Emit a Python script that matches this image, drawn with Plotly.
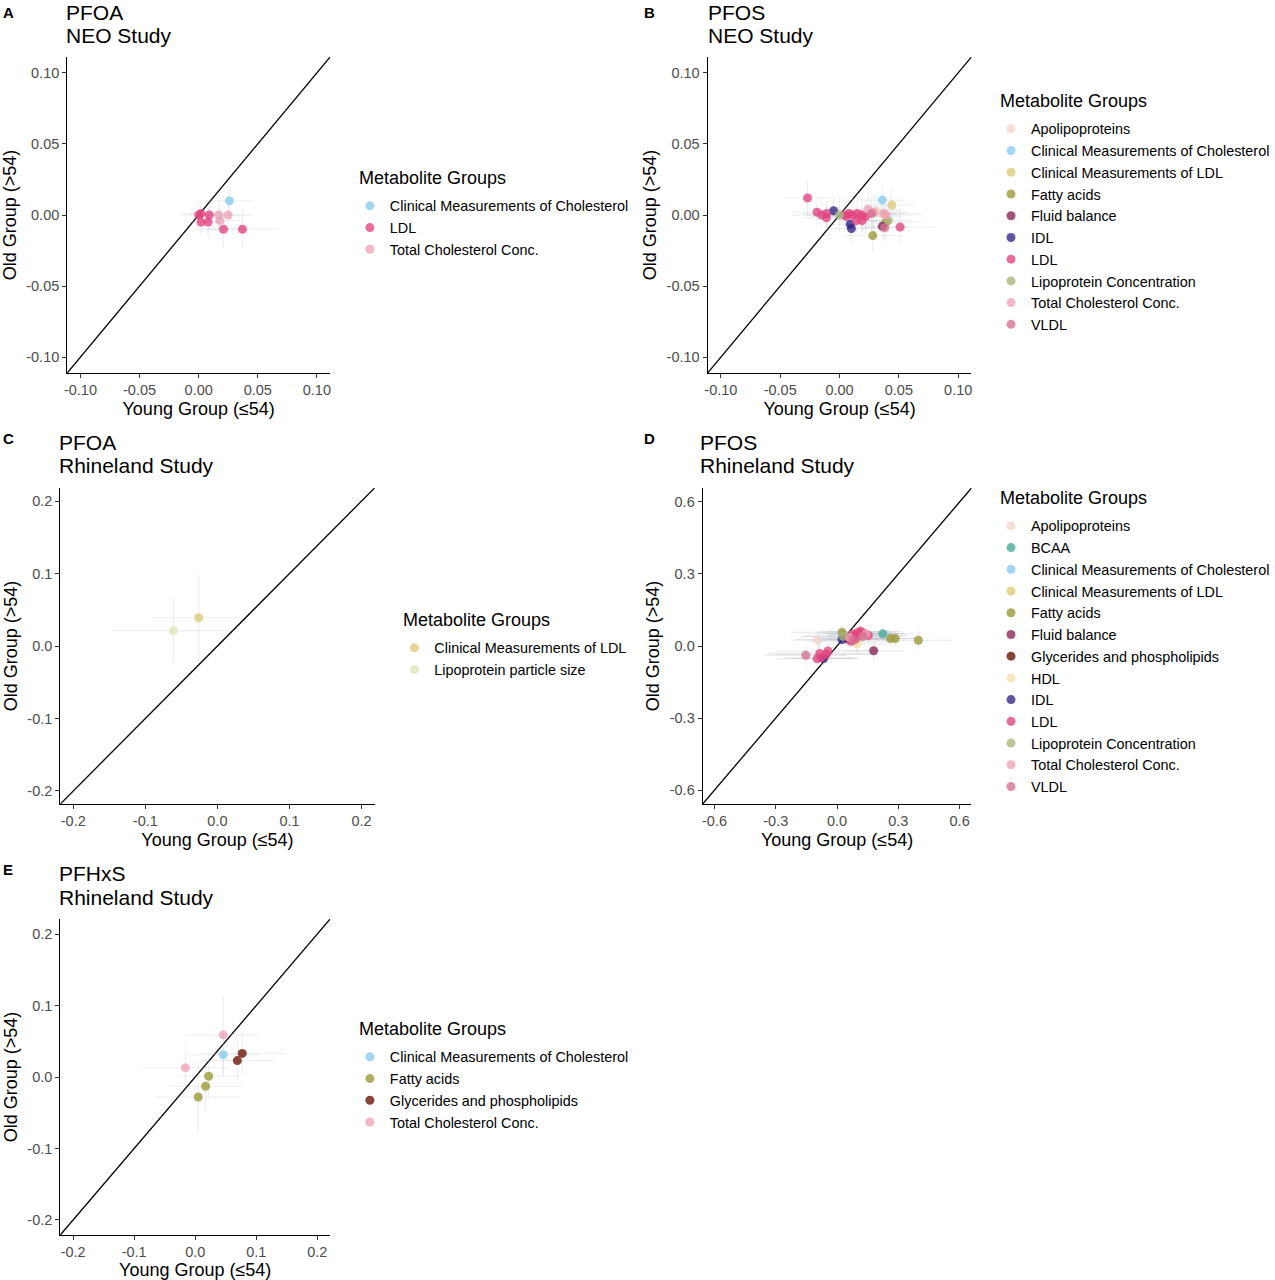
import plotly.graph_objects as go

W, H = 1275, 1280

COLORS = {
    "Apolipoproteins": "#F2D5C6",
    "BCAA": "#44AA99",
    "Clinical Measurements of Cholesterol": "#88CCEE",
    "Clinical Measurements of LDL": "#DDCC77",
    "Fatty acids": "#999933",
    "Fluid balance": "#882255",
    "Glycerides and phospholipids": "#661100",
    "HDL": "#F3DCA6",
    "IDL": "#332288",
    "LDL": "#E2427F",
    "Lipoprotein Concentration": "#A9B57A",
    "Lipoprotein particle size": "#E1E6B8",
    "Total Cholesterol Conc.": "#EDA3B5",
    "VLDL": "#D5708E",
}

# ---------------- Panel A: PFOA, NEO Study ----------------
A_group = ["Clinical Measurements of Cholesterol",
           "LDL", "LDL", "LDL", "LDL", "LDL", "LDL", "LDL",
           "Total Cholesterol Conc.", "Total Cholesterol Conc.", "Total Cholesterol Conc."]
A_x = [0.026, 0.000, 0.002, 0.009, 0.002, 0.008, 0.021, 0.037, 0.017, 0.025, 0.018]
A_y = [0.010, 0.000, 0.001, 0.000, -0.005, -0.005, -0.010, -0.010, 0.000, 0.000, -0.004]
A_ex = [0.020, 0.015, 0.015, 0.016, 0.015, 0.016, 0.020, 0.030, 0.018, 0.020, 0.018]
A_ey = [0.012, 0.010, 0.010, 0.010, 0.010, 0.010, 0.012, 0.014, 0.010, 0.010, 0.010]

# ---------------- Panel B: PFOS, NEO Study ----------------
B_group = ["Apolipoproteins", "Apolipoproteins",
           "Clinical Measurements of Cholesterol",
           "Clinical Measurements of LDL",
           "Fatty acids", "Fatty acids",
           "Fluid balance",
           "IDL", "IDL", "IDL",
           "LDL", "LDL", "LDL", "LDL", "LDL", "LDL", "LDL", "LDL", "LDL", "LDL",
           "LDL", "LDL", "LDL", "LDL", "LDL",
           "Lipoprotein Concentration", "Lipoprotein Concentration",
           "Total Cholesterol Conc.", "Total Cholesterol Conc.", "Total Cholesterol Conc.",
           "Total Cholesterol Conc.",
           "VLDL", "VLDL"]
B_x = [0.031, 0.035,
       0.036,
       0.044,
       0.039, 0.028,
       0.036,
       -0.005, 0.009, 0.010,
       -0.027, -0.019, -0.015, -0.011, -0.011, 0.004, 0.008, 0.011, 0.015, 0.019,
       0.022, 0.014, 0.019, 0.051, 0.006,
       0.000, 0.041,
       0.024, 0.029, 0.0375, 0.039,
       0.038, 0.027]
B_y = [0.003, 0.001,
       0.0105,
       0.007,
       -0.005, -0.0145,
       -0.008,
       0.003, -0.0065, -0.0095,
       0.012, 0.002, 0.000, 0.001, -0.002, 0.000, 0.001, 0.000, 0.001, 0.000,
       -0.001, -0.004, -0.004, -0.0085, -0.001,
       0.000, -0.004,
       0.004, 0.002, 0.001, 0.000,
       -0.009, 0.001]
B_ex = [0.02, 0.02, 0.02, 0.02, 0.03, 0.025, 0.02, 0.015, 0.02, 0.02,
        0.02, 0.02, 0.025, 0.02, 0.02, 0.03, 0.03, 0.03, 0.03, 0.03,
        0.03, 0.02, 0.02, 0.03, 0.03, 0.03, 0.02, 0.03, 0.03, 0.03, 0.03, 0.02, 0.02]
B_ey = [0.010, 0.010, 0.010, 0.012, 0.012, 0.012, 0.010, 0.010, 0.010, 0.010,
        0.012, 0.010, 0.010, 0.010, 0.010, 0.012, 0.012, 0.012, 0.012, 0.012,
        0.012, 0.010, 0.010, 0.012, 0.012, 0.012, 0.010, 0.012, 0.012, 0.012, 0.012, 0.010, 0.012]

# ---------------- Panel C: PFOA, Rhineland Study ----------------
C_group = ["Clinical Measurements of LDL", "Lipoprotein particle size"]
C_x = [-0.026, -0.061]
C_y = [0.039, 0.021]
C_ex = [0.065, 0.085]
C_ey = [0.060, 0.045]

# ---------------- Panel D: PFOS, Rhineland Study ----------------
D_group = ["Apolipoproteins", "Apolipoproteins",
           "BCAA",
           "Clinical Measurements of Cholesterol",
           "Clinical Measurements of LDL",
           "Fatty acids", "Fatty acids", "Fatty acids", "Fatty acids",
           "Fluid balance",
           "Glycerides and phospholipids",
           "HDL",
           "IDL", "IDL",
           "LDL", "LDL", "LDL", "LDL", "LDL", "LDL", "LDL", "LDL", "LDL", "LDL", "LDL",
           "LDL", "LDL",
           "Lipoprotein Concentration",
           "Total Cholesterol Conc.", "Total Cholesterol Conc.",
           "VLDL", "VLDL", "VLDL"]
D_x = [-0.093, 0.110,
       0.224,
       0.120,
       0.100,
       0.024, 0.261, 0.285, 0.398,
       0.179,
       0.050,
       0.097,
       0.024, -0.066,
       0.068, 0.084, 0.100, 0.116, 0.132, 0.153, 0.076, -0.085, -0.098, -0.077,
       -0.045, -0.053, 0.090,
       0.030,
       0.140, 0.060,
       -0.153, 0.080, 0.125]
D_y = [0.024, 0.060,
       0.051,
       0.050,
       0.030,
       0.057, 0.031, 0.031, 0.024,
       -0.020,
       0.030,
       0.009,
       0.027, -0.052,
       0.020, 0.041, 0.055, 0.061, 0.052, 0.044, 0.050, -0.031, -0.053, -0.049,
       -0.021, -0.035, 0.030,
       0.040,
       0.050, 0.035,
       -0.039, 0.025, 0.040]
D_ex = [0.12, 0.15, 0.15, 0.15, 0.15, 0.25, 0.12, 0.10, 0.16, 0.15, 0.15, 0.15,
        0.22, 0.15, 0.20, 0.25, 0.20, 0.20, 0.20, 0.20, 0.22, 0.25, 0.20, 0.18,
        0.25, 0.25, 0.18, 0.20, 0.18, 0.18, 0.20, 0.20, 0.18]
D_ey = [0.04, 0.03, 0.03, 0.03, 0.03, 0.03, 0.03, 0.03, 0.04, 0.04, 0.03, 0.04,
        0.03, 0.03, 0.03, 0.03, 0.03, 0.03, 0.03, 0.03, 0.03, 0.04, 0.03, 0.03,
        0.03, 0.03, 0.03, 0.03, 0.03, 0.03, 0.04, 0.03, 0.03]

# ---------------- Panel E: PFHxS, Rhineland Study ----------------
E_group = ["Clinical Measurements of Cholesterol",
           "Fatty acids", "Fatty acids", "Fatty acids",
           "Glycerides and phospholipids", "Glycerides and phospholipids",
           "Total Cholesterol Conc.", "Total Cholesterol Conc."]
E_x = [0.046, 0.022, 0.017, 0.005, 0.077, 0.069, 0.046, -0.016]
E_y = [0.031, 0.001, -0.013, -0.028, 0.033, 0.023, 0.059, 0.013]
E_ex = [0.060, 0.050, 0.060, 0.070, 0.070, 0.060, 0.060, 0.070]
E_ey = [0.030, 0.030, 0.035, 0.050, 0.030, 0.030, 0.055, 0.030]

# tick values / labels
A_ticks = [-0.10, -0.05, 0.00, 0.05, 0.10]
A_ticktext = ["-0.10", "-0.05", "0.00", "0.05", "0.10"]
C_ticks = [-0.2, -0.1, 0.0, 0.1, 0.2]
C_ticktext = ["-0.2", "-0.1", "0.0", "0.1", "0.2"]
D_ticks = [-0.6, -0.3, 0.0, 0.3, 0.6]
D_ticktext = ["-0.6", "-0.3", "0.0", "0.3", "0.6"]

panels = [
    dict(letter="A", chem="PFOA", study="NEO Study", grp=A_group, x=A_x, y=A_y, ex=A_ex, ey=A_ey,
         px=(65, 331), py=(57, 373), rng=0.1112, ticks=A_ticks, tt=A_ticktext,
         leg=(359, 178), lett=(-2, 12), ttl=(62, 12), eb=0.22),
    dict(letter="B", chem="PFOS", study="NEO Study", grp=B_group, x=B_x, y=B_y, ex=B_ex, ey=B_ey,
         px=(713, 980), py=(57, 373), rng=0.1112, ticks=A_ticks, tt=A_ticktext,
         leg=(1008, 101), lett=(647, 12), ttl=(711, 12), eb=0.22),
    dict(letter="C", chem="PFOA", study="Rhineland Study", grp=C_group, x=C_x, y=C_y, ex=C_ex, ey=C_ey,
         px=(58, 376), py=(488, 804), rng=0.218, ticks=C_ticks, tt=C_ticktext,
         leg=(404, 620), lett=(-2, 438), ttl=(55, 442), eb=0.22),
    dict(letter="D", chem="PFOS", study="Rhineland Study", grp=D_group, x=D_x, y=D_y, ex=D_ex, ey=D_ey,
         px=(708, 980), py=(488, 804), rng=0.658, ticks=D_ticks, tt=D_ticktext,
         leg=(1008, 498), lett=(647, 438), ttl=(703, 442), eb=0.3),
    dict(letter="E", chem="PFHxS", study="Rhineland Study", grp=E_group, x=E_x, y=E_y, ex=E_ex, ey=E_ey,
         px=(58, 331), py=(919, 1235), rng=0.221, ticks=C_ticks, tt=C_ticktext,
         leg=(359, 1029), lett=(-2, 869), ttl=(55, 873), eb=0.22),
]

FONT = "Liberation Sans, Arial, sans-serif"


def fx(px):
    return px / W


def fy(py):
    return 1 - py / H


fig = go.Figure()
annotations = []
layout_axes = {}

for i, p in enumerate(panels):
    n = i + 1
    xa = "x" if n == 1 else f"x{n}"
    ya = "y" if n == 1 else f"y{n}"
    legname = "legend" if n == 1 else f"legend{n}"
    r = p["rng"]
    ebc = f"rgba(165,175,190,{p['eb']})"
    # identity line y = x
    fig.add_trace(go.Scatter(x=[-r * 1.2, r * 1.2], y=[-r * 1.2, r * 1.2], mode="lines",
                             line=dict(color="black", width=1.3), showlegend=False,
                             hoverinfo="skip", xaxis=xa, yaxis=ya))
    order = sorted(set(p["grp"]))
    # error bars first (underneath)
    for g in order:
        idx = [k for k, gg in enumerate(p["grp"]) if gg == g]
        fig.add_trace(go.Scatter(
            x=[p["x"][k] for k in idx], y=[p["y"][k] for k in idx], mode="markers",
            marker=dict(size=1, color="rgba(0,0,0,0)"),
            error_x=dict(type="data", array=[p["ex"][k] for k in idx], color=ebc,
                         thickness=1, width=0),
            error_y=dict(type="data", array=[p["ey"][k] for k in idx], color=ebc,
                         thickness=1, width=0),
            showlegend=False, hoverinfo="skip", xaxis=xa, yaxis=ya))
    for g in order:
        idx = [k for k, gg in enumerate(p["grp"]) if gg == g]
        fig.add_trace(go.Scatter(
            x=[p["x"][k] for k in idx], y=[p["y"][k] for k in idx], mode="markers", name=g,
            marker=dict(size=9, color=COLORS[g], opacity=0.78, line=dict(width=0)),
            legend=legname, xaxis=xa, yaxis=ya))

    x0, x1 = p["px"]
    yt, yb = p["py"]
    axcommon = dict(range=[-r, r], showline=True, linecolor="black", linewidth=1.1,
                    ticks="outside", ticklen=4, tickcolor="#333333", tickwidth=1.1,
                    tickvals=p["ticks"], ticktext=p["tt"],
                    tickfont=dict(family=FONT, size=14.5, color="#4D4D4D"),
                    showgrid=False, zeroline=False, fixedrange=True)
    layout_axes["xaxis" if n == 1 else f"xaxis{n}"] = dict(
        domain=[fx(x0), fx(x1)], anchor=ya,
        title=dict(text="Young Group (≤54)", font=dict(family=FONT, size=18, color="black"), standoff=4),
        **axcommon)
    layout_axes["yaxis" if n == 1 else f"yaxis{n}"] = dict(
        domain=[fy(yb), fy(yt)], anchor=xa,
        title=dict(text="Old Group (>54)", font=dict(family=FONT, size=18, color="black"), standoff=5),
        **axcommon)

    # panel letter & two-line title
    lx_, ly_ = p["lett"]
    annotations.append(dict(text=f"<b>{p['letter']}</b>", x=fx(lx_), y=fy(ly_),
                            xref="paper", yref="paper", xanchor="left", yanchor="middle",
                            showarrow=False, font=dict(family=FONT, size=15, color="black")))
    tx, ty = p["ttl"]
    annotations.append(dict(text=p["chem"], x=fx(tx), y=fy(ty),
                            xref="paper", yref="paper", xanchor="left", yanchor="middle",
                            showarrow=False, font=dict(family=FONT, size=21, color="black")))
    annotations.append(dict(text=p["study"], x=fx(tx), y=fy(ty + 24),
                            xref="paper", yref="paper", xanchor="left", yanchor="middle",
                            showarrow=False, font=dict(family=FONT, size=21, color="black")))
    # legend title + legend
    lx, ly = p["leg"]
    annotations.append(dict(text="Metabolite Groups", x=fx(lx - 1), y=fy(ly), xref="paper", yref="paper",
                            xanchor="left", yanchor="middle", showarrow=False,
                            font=dict(family=FONT, size=18, color="black")))
    layout_axes[legname] = dict(x=fx(lx - 8), y=fy(ly + 12), xanchor="left", yanchor="top",
                                font=dict(family=FONT, size=14.4, color="black"),
                                bgcolor="rgba(0,0,0,0)", borderwidth=0, itemclick=False,
                                itemdoubleclick=False, tracegroupgap=0)

fig.update_layout(width=W, height=H, margin=dict(l=0, r=0, t=0, b=0),
                  paper_bgcolor="white", plot_bgcolor="white",
                  annotations=annotations, **layout_axes)
fig.write_html(
    "out.html", config={"displayModeBar": False},
    post_script=(
        "document.documentElement.style.margin='0';"
        "document.documentElement.style.overflow='hidden';"
        "document.body.style.margin='0';document.body.style.overflow='hidden';"
    ))
